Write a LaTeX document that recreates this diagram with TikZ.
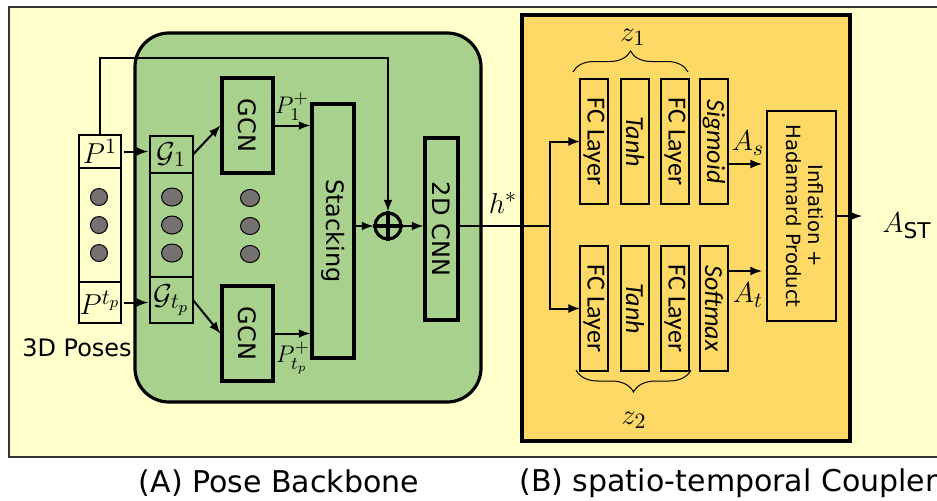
\documentclass[tikz,border=0pt]{standalone}
\usepackage{fontspec}
\setmainfont{DejaVu Sans}
\newfontfamily\layerfont{Carlito}
\usepackage{amsmath}
\usetikzlibrary{shapes,arrows,fit,positioning,calc,decorations.pathreplacing}
\definecolor{paper}{RGB}{255,255,204}
\definecolor{leaf}{RGB}{169,209,142}
\definecolor{amber}{RGB}{255,217,102}
\definecolor{pebble}{RGB}{118,113,113}
\newcommand{\vtext}[1]{\rotatebox{-90}{#1}}

\begin{document}
\begin{tikzpicture}[x=0.5pt,y=-0.5pt,% pixel grid, y runs down
				every node/.style={
					align=center,  		% two-line labels
					inner sep=0pt
				},
				every edge/.style={draw,line width=1pt},
				cell/.style={rectangle,draw=black,line width=1pt,outer sep=0pt},
				block/.style={rectangle,draw=black,line width=1.6pt,fill=leaf,font=\fontsize{12}{14}\selectfont},
				layer/.style={rectangle,draw=black,line width=0.8pt,fill=amber,outer sep=0pt,minimum width=14pt,minimum height=62.5pt,font=\fontsize{13}{15}\layerfont},
				pebbledot/.style={ellipse,draw=black,line width=0.5pt,fill=pebble},
				sym/.style={font=\fontsize{15.5}{18}\selectfont},
				arr/.style={->,>=latex,line width=1pt}
			]
			\useasboundingbox (0,0) rectangle (937,500);
			\draw[fill=paper,draw=black!80,line width=0.8pt] (9,7) rectangle (950,457);
			% (A) pose backbone
			\node[rectangle,rounded corners=17pt,draw=black,line width=1.6pt,fill=leaf,minimum width=173pt,minimum height=184.5pt](backbone) at (308,217.5){};
			% (B) coupler
			\node[rectangle,draw=black,line width=1.6pt,fill=amber,minimum width=164pt,minimum height=213pt](coupler) at (686,228){};

			\node[cell,fill=paper,minimum width=21pt,minimum height=16.5pt,font=\fontsize{15.5}{18}\selectfont](P1) at (100,151.5){$P^1$};
			\node[cell,fill=paper,minimum width=21pt,minimum height=57pt](Pmid)[below=0pt of P1]{};
			\node[cell,fill=paper,minimum width=21pt,minimum height=20.5pt,font=\fontsize{15.5}{18}\selectfont](Ptp)[below=0pt of Pmid]{$P^{t_p}$};
			\node[font=\fontsize{12}{14}\selectfont](poses) at (77,348){3D Poses};

			\node[cell,fill=leaf,minimum width=21.5pt,minimum height=18.5pt,font=\fontsize{15.5}{18}\selectfont](G1) at (171.5,154.5){$\mathcal{G}_1$};
			\node[cell,fill=leaf,minimum width=21.5pt,minimum height=52pt](Gmid)[below=0pt of G1]{};
			\node[cell,fill=leaf,minimum width=21.5pt,minimum height=23pt,font=\fontsize{15.5}{18}\selectfont](Gtp)[below=0pt of Gmid]{$\mathcal{G}_{t_p}$};

			\foreach \y/\n in {197/1,225/2,253/3}{
				\node[pebbledot,minimum width=8.5pt,minimum height=8.5pt](pd\n) at (99,\y){};
				\node[pebbledot,minimum width=10.5pt,minimum height=9pt](gd\n) at (172,\y){};
				\node[pebbledot,minimum width=9.5pt,minimum height=8.5pt](md\n) at (250,\y+1){};
			}

			\node[block,minimum width=25.5pt,minimum height=47.5pt](gcn1) at (247.5,125.5){\vtext{GCN}};
			\node[block,minimum width=25.5pt,minimum height=47.5pt](gcn2) at (247.5,333.5){\vtext{GCN}};
			\node[block,minimum width=21pt,minimum height=127pt](stack) at (333,231){\vtext{Stacking}};
			\node[circle,draw=black,line width=1.6pt,minimum size=13pt](plus) at (388,226){};
			\draw[line width=1.6pt] (plus.north) -- (plus.south) (plus.west) -- (plus.east);
			\node[block,minimum width=16.5pt,minimum height=91pt](cnn) at (441.5,229){\vtext{2D CNN}};

			\node[font=\fontsize{12.5}{15}\selectfont](p1plus) at (292,107){$P_1^+$};
			\node[font=\fontsize{12.5}{15}\selectfont](ptpplus) at (293,358){$P_{t_p}^+$};

			\path[arr]
			(P1.east)edge [shorten <=1.5pt,shorten >=1pt] (P1.east -| G1.west)
			(Ptp.east)edge [shorten <=1.5pt,shorten >=1pt] (Ptp.east -| Gtp.west)
			(G1.east)edge [] (gcn1.west)
			(Gtp.east)edge [] (gcn2.west)
			(gcn1.east)edge [] (gcn1.east -| stack.west)
			(gcn2.east)edge [] (gcn2.east -| stack.west)
			(stack.east |- plus)edge [] (plus)
			(plus)edge [] (plus -| cnn.west)
			;
			\coordinate (skiptop) at (0,58);
			\draw[arr] (P1.north) -- (P1.north |- skiptop) -| (plus.north);

			% coupler branches
			\coordinate (split) at (550,226);
			\draw[line width=1pt] (cnn.east |- plus) -- (split);
			\node[sym](hstar) at (503,203){$h^*$};

			\node[layer](fc1) at (594,141.5){\vtext{FC Layer}};
			\node[layer](tanh1)[right=6.5pt of fc1]{\vtext{\itshape Tanh}};
			\node[layer](fc1b)[right=6pt of tanh1]{\vtext{FC Layer}};
			\node[layer](sig)[right=5.5pt of fc1b]{\vtext{\itshape Sigmoid}};

			\node[layer](fc2) at (594,308.5){\vtext{FC Layer}};
			\node[layer](tanh2)[right=6.5pt of fc2]{\vtext{\itshape Tanh}};
			\node[layer](fc2b)[right=6pt of tanh2]{\vtext{FC Layer}};
			\node[layer](soft)[right=5.5pt of fc2b]{\vtext{\itshape Softmax}};

			\draw[arr] (split) |- (fc1.west);
			\draw[arr] (split) |- (fc2.west);

			\draw[decorate,decoration={brace,amplitude=10.5pt},line width=0.5pt] (573,72) -- (688,72);
			\draw[decorate,decoration={brace,amplitude=11pt,mirror},line width=0.5pt] (576,370) -- (691,370);
			\node[sym](z1) at (633,37){$z_1$};
			\node[sym](z2) at (634,420){$z_2$};

			\node[layer,minimum width=34.5pt,minimum height=105pt,font=\fontsize{9.8}{11}\selectfont](infl) at (801.5,216){\vtext{\begin{tabular}{@{}c@{}}Inflation +\\Hadamard Product\end{tabular}}};

			\coordinate (sigout) at ($(sig.north east)!0.68!(sig.south east)$);
			\coordinate (softout) at ($(soft.north east)!0.2!(soft.south east)$);
			\path[arr]
			(sigout)edge [shorten >=2.5pt] (sigout -| infl.west)
			(softout)edge [shorten >=2.5pt] (softout -| infl.west)
			;
			\node[sym](As) at (748,143){$A_s$};
			\node[sym](At) at (748,295){$A_t$};

			\node[sym](ast) at (907,226){$A_{\text{ST}}$};
			\path[arr] (infl.east)edge [shorten >=10pt] (infl.east -| ast.west);

			\node[font=\fontsize{15}{18}\selectfont](capA) at (279,483){(A) Pose Backbone};
			\node[font=\fontsize{15}{18}\selectfont,anchor=west](capB) at (519,483){(B) spatio-temporal Coupler};
		\end{tikzpicture}
\end{document}
